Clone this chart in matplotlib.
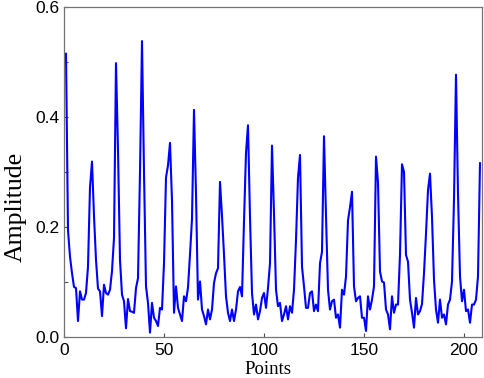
import matplotlib
matplotlib.use("Agg")
import matplotlib.pyplot as plt
from matplotlib.ticker import MultipleLocator

# Sample index (Points) and amplitude values
points = list(range(1, 209))
amplitude = [
    0.515, 0.194, 0.146, 0.116, 0.091, 0.089, 0.029, 0.083, 0.068, 0.068,   # 1-10
    0.080, 0.128, 0.272, 0.319, 0.220, 0.140, 0.088, 0.083, 0.038, 0.095,   # 11-20
    0.080, 0.077, 0.086, 0.120, 0.180, 0.498, 0.340, 0.140, 0.077, 0.065,   # 21-30
    0.016, 0.069, 0.047, 0.046, 0.044, 0.089, 0.107, 0.300, 0.538, 0.300,   # 31-40
    0.092, 0.062, 0.008, 0.062, 0.035, 0.029, 0.020, 0.053, 0.050, 0.134,   # 41-50
    0.290, 0.312, 0.353, 0.248, 0.044, 0.092, 0.053, 0.041, 0.029, 0.074,   # 51-60
    0.065, 0.090, 0.150, 0.215, 0.413, 0.260, 0.068, 0.101, 0.050, 0.038,   # 61-70
    0.023, 0.050, 0.032, 0.050, 0.098, 0.116, 0.125, 0.282, 0.220, 0.150,   # 71-80
    0.074, 0.044, 0.029, 0.050, 0.029, 0.050, 0.083, 0.091, 0.074, 0.210,   # 81-90
    0.335, 0.385, 0.218, 0.080, 0.041, 0.059, 0.032, 0.047, 0.071, 0.080,   # 91-100
    0.053, 0.089, 0.134, 0.348, 0.224, 0.086, 0.056, 0.062, 0.029, 0.041,   # 101-110
    0.056, 0.032, 0.056, 0.044, 0.086, 0.176, 0.290, 0.331, 0.128, 0.092,   # 111-120
    0.053, 0.053, 0.080, 0.083, 0.047, 0.059, 0.047, 0.134, 0.155, 0.365,   # 121-130
    0.220, 0.086, 0.050, 0.065, 0.068, 0.035, 0.041, 0.017, 0.086, 0.077,   # 131-140
    0.110, 0.212, 0.236, 0.264, 0.092, 0.065, 0.071, 0.074, 0.035, 0.035,   # 141-150
    0.011, 0.074, 0.050, 0.068, 0.092, 0.328, 0.281, 0.119, 0.101, 0.099,   # 151-160
    0.050, 0.041, 0.014, 0.074, 0.044, 0.059, 0.059, 0.150, 0.314, 0.300,   # 161-170
    0.149, 0.137, 0.068, 0.044, 0.017, 0.071, 0.041, 0.047, 0.060, 0.116,   # 171-180
    0.188, 0.267, 0.297, 0.218, 0.104, 0.050, 0.026, 0.068, 0.035, 0.041,   # 181-190
    0.023, 0.059, 0.068, 0.101, 0.250, 0.477, 0.260, 0.110, 0.065, 0.086,   # 191-200
    0.047, 0.050, 0.026, 0.059, 0.059, 0.068, 0.110, 0.316,                 # 201-208
]
x_ticks = [0, 50, 100, 150, 200]
y_ticks = [0.0, 0.2, 0.4, 0.6]

fig = plt.figure(figsize=(4.84, 3.78), dpi=100)
ax = fig.add_axes([64 / 484, 41 / 378, 418 / 484, 330 / 378])

ax.plot(points, amplitude, color="#0000ff", linewidth=1.5)

ax.set_xlim(0, 209)
ax.set_ylim(0, 0.6)
ax.set_xticks(x_ticks)
ax.set_yticks(y_ticks)
ax.set_yticklabels([f"{v:.1f}" for v in y_ticks])
ax.yaxis.set_minor_locator(MultipleLocator(0.1))

tick_font = "Liberation Sans"
for lab in ax.get_xticklabels() + ax.get_yticklabels():
    lab.set_fontfamily(tick_font)
    lab.set_fontsize(12.5)

ax.tick_params(axis="both", which="both", direction="in", length=3, width=0.8,
               color="0.3")
ax.tick_params(axis="x", which="major", pad=4)
ax.tick_params(axis="y", which="major", pad=3)
ax.tick_params(axis="x", which="minor", bottom=False)

for s in ax.spines.values():
    s.set_color("0.45")
    s.set_linewidth(0.9)

ax.set_xlabel("Points", fontfamily="Liberation Serif", fontsize=13.5)
ax.xaxis.set_label_coords(0.489, -0.1)
ax.set_ylabel("Amplitude", fontfamily="Liberation Serif", fontsize=18.5)
ax.yaxis.set_label_coords(-0.115, 0.394)
ax.xaxis.label.set_verticalalignment("center")
ax.yaxis.label.set_verticalalignment("center")

fig.savefig("out.png", dpi=100)
